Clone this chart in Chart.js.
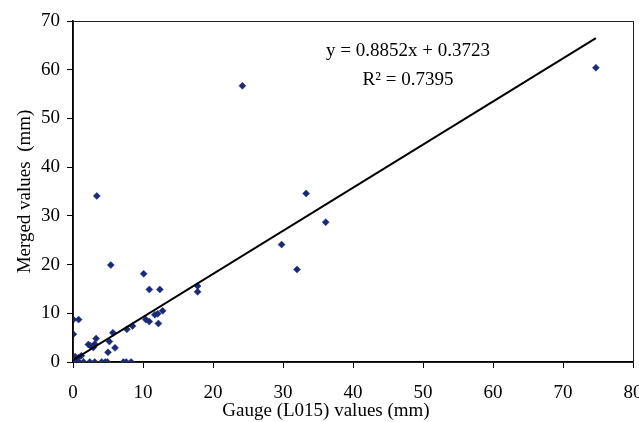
<!DOCTYPE html>
<html>
<head>
<meta charset="utf-8">
<script src="https://cdn.jsdelivr.net/npm/chart.js@4.4.0/dist/chart.umd.min.js"></script>
<style>
  html, body { margin: 0; padding: 0; background: #fff; overflow: hidden; }
  #chart { display: block; }
</style>
</head>
<body>
<canvas id="chart" width="639" height="422"></canvas>
<script>
// valores (mm)
const gaugeValues = [
  74.7, 24.2, 3.4, 33.3, 36.1, 29.8, 32.0, 17.8, 17.8, 10.1,
  5.4, 10.9, 12.4, 12.8, 12.1, 11.7, 12.2, 10.9, 10.4, 8.5,
  7.7, 5.7, 5.2, 6.0, 5.0, 3.3, 3.1, 2.9, 2.5, 2.2,
  0.05, 0.8, 0.05, 0.3, 0.8, 1.2, 0.6, 0.05,
  0, 0.8, 1.5, 2.4, 3.1, 4.1, 4.6, 4.9, 7.2, 7.6, 8.3
];
const mergedValues = [
  60.4, 56.7, 34.1, 34.6, 28.7, 24.1, 19.0, 15.6, 14.4, 18.1,
  19.9, 14.9, 14.9, 10.5, 9.9, 9.7, 7.9, 8.3, 8.7, 7.4,
  6.7, 6.0, 4.2, 2.9, 2.0, 4.8, 3.7, 3.0, 3.3, 3.6,
  8.7, 8.7, 5.7, 1.1, 0.9, 1.3, 0.3, 0.3,
  0, 0, 0, 0, 0, 0, 0, 0, 0, 0, 0
];

// línea de tendencia de Excel
const trendSlope = 0.8852;
const trendIntercept = 0.3723;
const trendRange = [0, 74.7];
const equationText = 'y = 0.8852x + 0.3723';
const r2Text = 'R\u00B2 = 0.7395';

const xTitle = 'Gauge (L015) values (mm)';
const yTitle = 'Merged values  (mm)';
const xMax = 80;
const yMax = 70;
const tickStep = 10;

const points = gaugeValues.map((x, i) => ({ x: x, y: mergedValues[i] }));
const trendPoints = trendRange.map(x => ({ x: x, y: trendSlope * x + trendIntercept }));

const FONT = '"Liberation Serif", "Times New Roman", serif';

// marco del área de trazado + textos
const framePlugin = {
  id: 'frame',
  afterDraw(chart) {
    const { ctx, chartArea: a } = chart;
    ctx.save();
    ctx.strokeStyle = '#222';
    ctx.lineWidth = 1;
    ctx.strokeRect(Math.round(a.left) + 0.5, Math.round(a.top) + 0.5,
                   Math.round(a.right - a.left), Math.round(a.bottom - a.top));
    ctx.fillStyle = '#000';
    ctx.font = '19px ' + FONT;
    ctx.textAlign = 'center';
    ctx.textBaseline = 'middle';
    ctx.fillText(equationText, 408, 51);
    ctx.fillText(r2Text, 408, 80);
    ctx.fillText(xTitle, 326, 411);
    ctx.restore();
  }
};

new Chart(document.getElementById('chart'), {
  type: 'scatter',
  data: {
    datasets: [
      {
        type: 'line',
        label: 'Tendencia',
        data: trendPoints,
        borderColor: '#000',
        borderWidth: 2,
        pointRadius: 0,
        fill: false
      },
      {
        label: 'Merged',
        data: points,
        pointStyle: 'rectRot',
        pointRadius: 3.5,
        backgroundColor: '#1a2a78',
        borderColor: '#1a2a78',
        borderWidth: 0.5
      }
    ]
  },
  options: {
    responsive: false,
    animation: false,
    layout: { padding: { top: 21, right: 6, left: 0, bottom: 0 } },
    plugins: {
      legend: { display: false },
      tooltip: { enabled: false }
    },
    scales: {
      x: {
        type: 'linear',
        min: 0,
        max: xMax,
        ticks: { stepSize: tickStep, color: '#000', padding: 14, maxRotation: 0,
                 font: { family: FONT, size: 19 } },
        grid: { drawOnChartArea: false, tickLength: 6, color: '#000' },
        border: { color: '#000', width: 1.5 },
        afterFit(scale) {
          scale.height = 60;
          scale.paddingRight = 0;
          scale.paddingLeft = 0;
        }
      },
      y: {
        type: 'linear',
        min: 0,
        max: yMax,
        ticks: { stepSize: tickStep, color: '#000', padding: 7,
                 font: { family: FONT, size: 19 } },
        grid: { drawOnChartArea: false, tickLength: 6, color: '#000' },
        border: { color: '#000', width: 1.5 },
        title: { display: true, text: yTitle, color: '#000', padding: { top: 14, bottom: 0 },
                 font: { family: FONT, size: 19 } },
        afterFit(scale) {
          scale.width = 73;
          scale.paddingTop = 0;
          scale.paddingBottom = 0;
        }
      }
    }
  },
  plugins: [framePlugin]
});
</script>
</body>
</html>
